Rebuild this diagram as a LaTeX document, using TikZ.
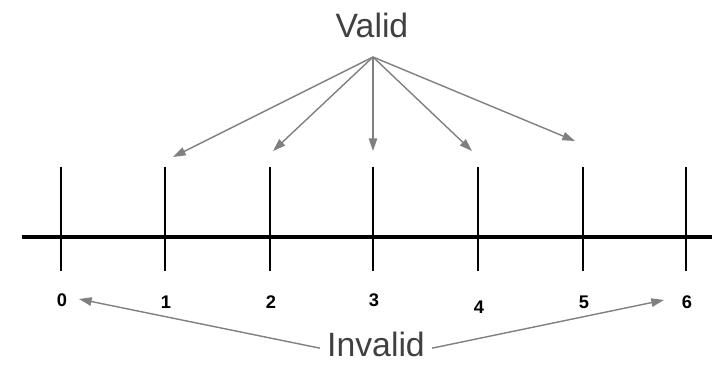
\documentclass[tikz,border=0pt]{standalone}
\usepackage{fontspec}
\setsansfont{Liberation Sans}
\usetikzlibrary{arrows.meta}
\tikzset{
  pointer/.style={draw=black!50,line width=1pt,-{Triangle[length=9pt,width=6pt,fill=black!50]}},
  ticklabel/.style={font=\sffamily\bfseries\fontsize{13}{15}\selectfont,inner sep=1pt},
  bigword/.style={font=\sffamily\fontsize{24}{28}\selectfont,text=black!75,inner sep=1pt}
}
\begin{document}
\begin{tikzpicture}[x=0.025cm,y=-0.025cm]
    \useasboundingbox (0,0) rectangle (712,364);

    % Linea numerica
    \draw[line width=2.6pt] (22,237) -- (712,237);
    \foreach \x\y\n in {61/300/0,165/302/1,270/302/2,373/300/3,478/307/4,583/302/5,686/302/6}{
      \draw[line width=1.8pt] (\x,167) -- (\x,271);
      \node[ticklabel] (n\n) at (\x+1,\y) {\n};
    }

    % Validos
    \node[bigword,anchor=base] (valid) at (372,37) {Valid};
    \coordinate (apex) at (373,57);
    \foreach \x\y\i in {173/157/1,273/151/2,373/151/3,472/151/4,575/141/5}{
      \coordinate (v\i) at (\x,\y);
      \draw[pointer] (apex) -- (v\i);
    }

    % Invalidos
    \node[bigword,anchor=base] (invalid) at (376,356) {Invalid};
    \coordinate (i0) at (79,299);
    \coordinate (i6) at (664,300);
    \draw[pointer] ([xshift=-4pt,yshift=-3pt]invalid.west) -- (i0);
    \draw[pointer] ([xshift=4pt,yshift=-3pt]invalid.east) -- (i6);

  \end{tikzpicture}
\end{document}
